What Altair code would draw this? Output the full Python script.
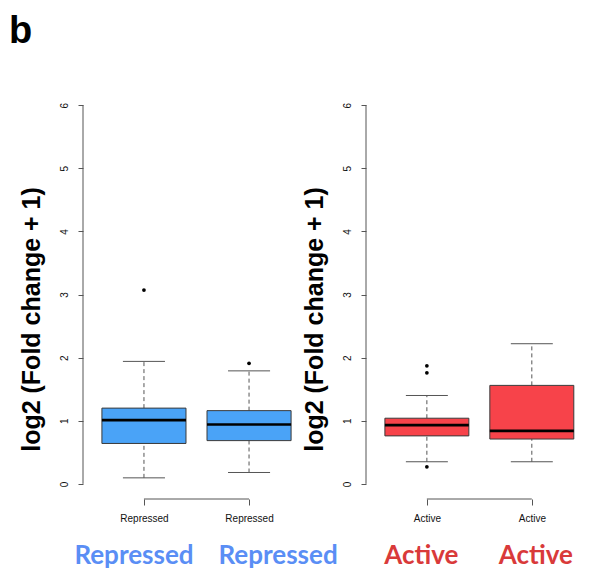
import altair as alt
import pandas as pd

# ---- data ----
left_cats = ["Repressed", "Repressed"]
left_q1 = [0.64, 0.685]
left_median = [1.01, 0.94]
left_q3 = [1.20, 1.16]
left_lo = [0.095, 0.18]
left_hi = [1.94, 1.79]
left_out_group = [0, 1]
left_out_val = [3.07, 1.91]

right_cats = ["Active", "Active"]
right_q1 = [0.76, 0.71]
right_median = [0.93, 0.84]
right_q3 = [1.04, 1.56]
right_lo = [0.35, 0.35]
right_hi = [1.40, 2.22]
right_out_group = [0, 0, 0]
right_out_val = [1.87, 1.76, 0.27]

y_ticks = [0, 1, 2, 3, 4, 5, 6]

# ---- layout constants ----
PX_PER_UNIT = 105.1
H = 409
XDOM_LEFT = [0.42, 2.58]
XDOM_RIGHT = [0.42, 2.44]
YDOM = [-0.24, 6.24]
BOX_HALF = 0.4
CAP_HALF = 0.2
BLUE_BOX = "#4AA3F7"
RED_BOX = "#F7434A"
BLUE_TXT = "#5A8EF5"
RED_TXT = "#D93A3A"
GREY = "#555555"
big_label_dx = {"left": [-0.095, 0.276], "right": [-0.052, 0.038]}


def panel(cats, q1, med, q3, lo, hi, og, ov, box_color, txt_color, big_dx, xdom, with_b):
    pos = [1, 2]
    width = round((xdom[1] - xdom[0]) * PX_PER_UNIT)
    boxes = pd.DataFrame({
        "pos": pos, "q1": q1, "med": med, "q3": q3, "lo": lo, "hi": hi,
    })
    boxes["xl"] = boxes["pos"] - BOX_HALF
    boxes["xr"] = boxes["pos"] + BOX_HALF
    boxes["cl"] = boxes["pos"] - CAP_HALF
    boxes["cr"] = boxes["pos"] + CAP_HALF
    outs = pd.DataFrame({"pos": [pos[g] for g in og], "val": ov})
    labels = pd.DataFrame({"pos": [p + d for p, d in zip(pos, big_dx)], "name": cats})

    xs = alt.Scale(domain=xdom, nice=False, zero=False)
    ys = alt.Scale(domain=YDOM, nice=False, zero=False)
    label_expr = "datum.value == 1 ? '%s' : '%s'" % (cats[0], cats[1])

    base = alt.Chart(boxes)

    # axis frame (R style): y line from 0 to 6, x bracket from 1 to 2
    yline = alt.Chart(pd.DataFrame({"x": [xdom[0]], "a": [y_ticks[0]], "b": [y_ticks[-1]]})).mark_rule(
        color=GREY, strokeWidth=1
    ).encode(
        x=alt.X("x:Q", scale=xs,
                axis=alt.Axis(values=[1, 2], labelExpr=label_expr, domain=False, grid=False,
                              tickSize=6, tickColor=GREY, labelFontSize=10,
                              labelFont="Liberation Sans", labelColor="#111",
                              labelPadding=8, title=None)),
        y=alt.Y("a:Q", scale=ys,
                axis=alt.Axis(values=y_ticks, format="d", domain=False, grid=False, tickSize=5,
                              tickColor=GREY, labelAngle=-90, labelAlign="center",
                              labelBaseline="bottom", labelPadding=9, labelFontSize=10,
                              labelFont="Liberation Sans", labelColor="#111",
                              title="log2 (Fold change + 1)", titleFont="Liberation Sans",
                              titleFontSize=25, titleFontWeight="bold", titleColor="#000",
                              titlePadding=15, titleY=229)),
        y2="b:Q",
    )
    xline = alt.Chart(pd.DataFrame({"a": [1], "b": [2], "y": [YDOM[0]]})).mark_rule(
        color=GREY, strokeWidth=1
    ).encode(x=alt.X("a:Q", scale=xs), x2="b:Q", y=alt.Y("y:Q", scale=ys))

    whisk_up = base.mark_rule(color=GREY, strokeDash=[4, 3], strokeWidth=1).encode(
        x=alt.X("pos:Q", scale=xs), y=alt.Y("q3:Q", scale=ys), y2="hi:Q")
    whisk_dn = base.mark_rule(color=GREY, strokeDash=[4, 3], strokeWidth=1).encode(
        x=alt.X("pos:Q", scale=xs), y=alt.Y("lo:Q", scale=ys), y2="q1:Q")
    cap_hi = base.mark_rule(color=GREY, strokeWidth=1).encode(
        x=alt.X("cl:Q", scale=xs), x2="cr:Q", y=alt.Y("hi:Q", scale=ys))
    cap_lo = base.mark_rule(color=GREY, strokeWidth=1).encode(
        x=alt.X("cl:Q", scale=xs), x2="cr:Q", y=alt.Y("lo:Q", scale=ys))
    box = base.mark_rect(color=box_color, stroke="#3a3a3a", strokeWidth=1).encode(
        x=alt.X("xl:Q", scale=xs), x2="xr:Q", y=alt.Y("q1:Q", scale=ys), y2="q3:Q")
    median = base.mark_rule(color="#000", strokeWidth=2.6).encode(
        x=alt.X("xl:Q", scale=xs), x2="xr:Q", y=alt.Y("med:Q", scale=ys))
    points = alt.Chart(outs).mark_circle(color="#000", size=14, opacity=1).encode(
        x=alt.X("pos:Q", scale=xs), y=alt.Y("val:Q", scale=ys))
    big = alt.Chart(labels).mark_text(
        font="Lato", fontSize=26, fontWeight="bold", color=txt_color, baseline="middle"
    ).encode(x=alt.X("pos:Q", scale=xs), y=alt.value(H + 57), text="name:N")

    layers = [yline, xline, whisk_up, whisk_dn, cap_hi, cap_lo, box, median, points, big]
    if with_b:
        b = alt.Chart(pd.DataFrame({"t": ["b"]})).mark_text(
            font="Liberation Sans", fontSize=38, fontWeight="bold", color="#000",
            align="left", baseline="top"
        ).encode(x=alt.value(-74), y=alt.value(-77), text="t:N")
        layers.append(b)
    return alt.layer(*layers).properties(width=width, height=H)


left = panel(left_cats, left_q1, left_median, left_q3, left_lo, left_hi,
             left_out_group, left_out_val, BLUE_BOX, BLUE_TXT, big_label_dx["left"],
             XDOM_LEFT, True)
right = panel(right_cats, right_q1, right_median, right_q3, right_lo, right_hi,
              right_out_group, right_out_val, RED_BOX, RED_TXT, big_label_dx["right"],
              XDOM_RIGHT, False)

chart = alt.hconcat(left, right, spacing=56, bounds="flush").properties(
    padding={"left": 1, "top": 5, "right": 0, "bottom": 0},
    background="white",
).configure_view(stroke=None, strokeWidth=0)

chart.save("out.html", embed_options={"renderer": "svg", "actions": False})
